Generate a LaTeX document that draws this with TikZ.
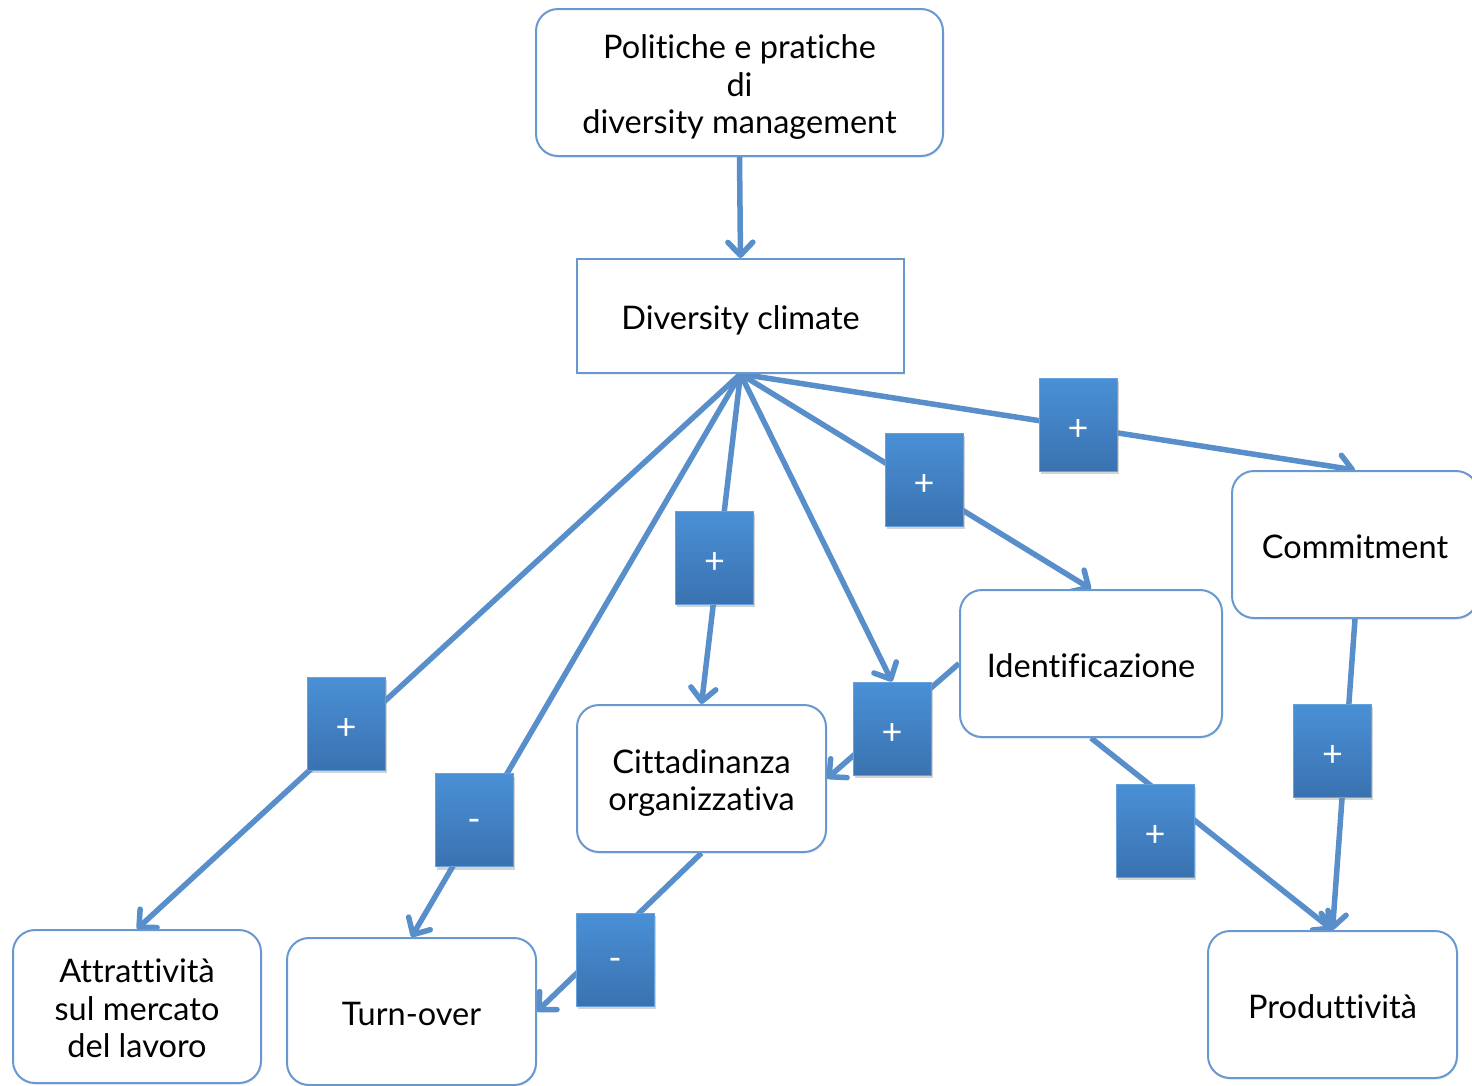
\documentclass[tikz,border=0pt]{standalone}
\usepackage{fontspec}
\setmainfont{Lato}[Ligatures={NoCommon,NoRequired,NoContextual}]
\usetikzlibrary{arrows.meta,shadows,backgrounds}
\definecolor{linec}{RGB}{88,142,202}
\definecolor{boxc}{RGB}{104,152,208}
\definecolor{ltop}{RGB}{74,144,214}
\definecolor{lbot}{RGB}{58,114,176}
\newcommand{\boxtxt}[1]{\raisebox{-6pt}[\height][\depth]{\begin{tabular}{@{}c@{}}#1\end{tabular}}}
\newcommand{\signtxt}[1]{\raisebox{-5pt}[\height][\depth]{#1}}
\begin{document}
\begin{tikzpicture}[x=1pt,y=-1pt,
 base/.style={draw=boxc, line width=2pt, fill=white, inner sep=0pt,
   font=\fontsize{32.5}{37.5}\selectfont,
   drop shadow={opacity=0.12, shadow xshift=1pt, shadow yshift=-2pt}},
 rbox/.style={base, rounded corners=22pt},
 sbox/.style={base},
 lab/.style={minimum width=78pt, minimum height=93pt, inner sep=0pt,
   top color=ltop, bottom color=lbot, draw=ltop!85!white, line width=0.8pt,
   text=white, font=\fontsize{36}{36}\selectfont,
   drop shadow={opacity=0.35, shadow xshift=1.5pt, shadow yshift=-3pt}},
 conn/.style={draw=linec, line width=5.5pt},
 arr/.style={conn, -{Straight Barb[length=13pt,width=25pt,round]}}
]
\path[use as bounding box] (0,0) rectangle (1472,1085);
\clip (0,0) rectangle (1472,1085);

% main boxes
\node[rbox, minimum width=407pt, minimum height=147pt] (pol) at (739.5,82.5)
  {\boxtxt{Politiche e pratiche\\di\\diversity management}};
\node[sbox, minimum width=327pt, minimum height=114pt] (dc) at (740.5,316) {\boxtxt{Diversity climate}};
\node[rbox, minimum width=246pt, minimum height=147pt] (com) at (1355,544.5) {\boxtxt{Commitment}};
\node[rbox, minimum width=262pt, minimum height=147pt] (ide) at (1091,663.5) {\boxtxt{Identificazione}};
\node[rbox, minimum width=249pt, minimum height=147pt] (cit) at (701.5,778.5) {\boxtxt{Cittadinanza\\organizzativa}};
\node[rbox, minimum width=248pt, minimum height=153pt] (att) at (137,1006.5) {\boxtxt{Attrattività\\sul mercato\\del lavoro}};
\node[rbox, minimum width=249pt, minimum height=147pt] (tur) at (411.5,1011.5) {\boxtxt{Turn-over}};
\node[rbox, minimum width=249pt, minimum height=147pt] (pro) at (1332.5,1004.5) {\boxtxt{Produttività}};

% label squares
\node[lab] (l1) at (1078,424.5) {\signtxt{+}};
\node[lab] (l2) at (924,479.5) {\signtxt{+}};
\node[lab] (l3) at (714.5,557.5) {\signtxt{+}};
\node[lab] (l4) at (346,723.5) {\signtxt{+}};
\node[lab] (l5) at (474,820) {\signtxt{-}};
\node[lab] (l6) at (892,728.5) {\signtxt{+}};
\node[lab] (l7) at (1155,830.5) {\signtxt{+}};
\node[lab] (l8) at (1332.5,750.5) {\signtxt{+}};
\node[lab] (l9) at (615,959.5) {\signtxt{-}};

% connectors (behind the sign squares)
\begin{scope}[on background layer]
\draw[arr] (pol.south) -- (dc.north);
\draw[arr] (dc.south) -- (com.north);
\draw[arr] (dc.south) -- (ide.north);
\draw[arr] (dc.south) -- (cit.north);
\draw[arr] (dc.south) -- (att.north);
\draw[arr] (dc.south) -- (tur.north);
\draw[arr] (dc.south) -- (l6.north);
\draw[arr] (ide.west) -- (cit.east);
\draw[arr] (ide.south) -- (pro.north);
\draw[arr] (com.south) -- (pro.north);
\draw[arr] (cit.south) -- (tur.east);
\end{scope}
\end{tikzpicture}
\end{document}
